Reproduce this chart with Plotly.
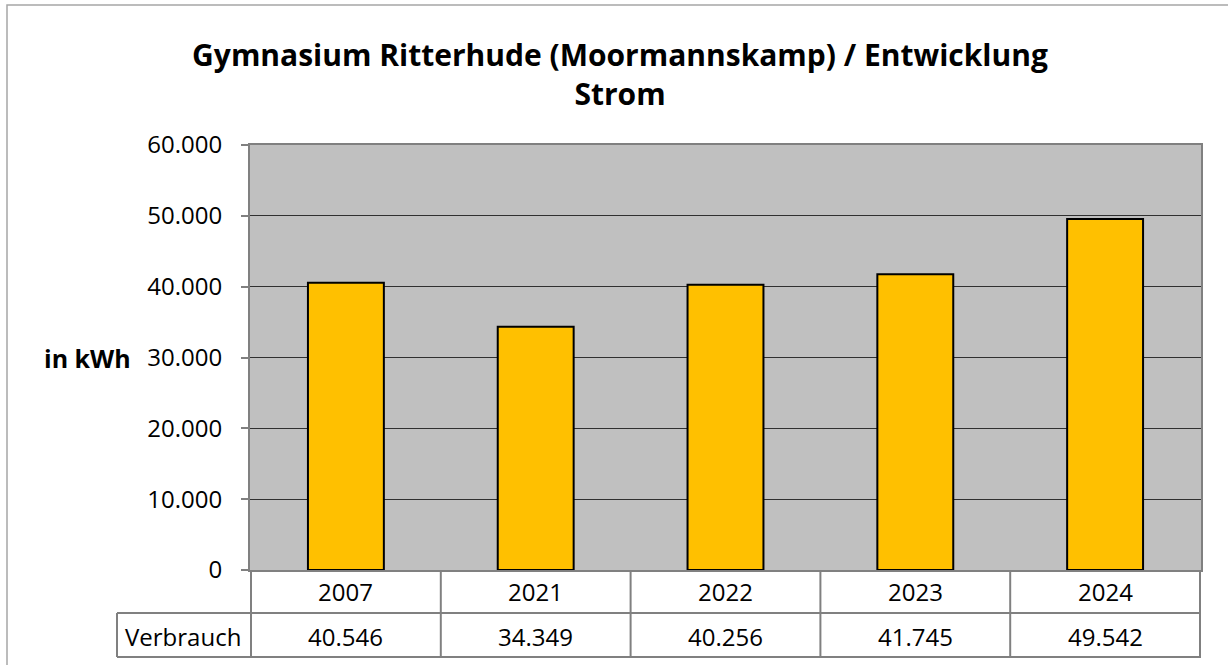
import plotly.graph_objects as go

# Daten
years = ["2007", "2021", "2022", "2023", "2024"]
verbrauch = [40546, 34349, 40256, 41745, 49542]
row_label = "Verbrauch"
y_ticks = [0, 10000, 20000, 30000, 40000, 50000, 60000]

TITLE = "Gymnasium Ritterhude (Moormannskamp) / Entwicklung<br>Strom"
FONT = "Open Sans"
GRAY = "#808080"

W, H = 1228, 665
L, T = 250, 145
pw, ph = 951, 425
R, B = W - L - pw, H - T - ph


def px_x(px):
    return (px - L) / pw


def px_y(py):
    return (T + ph - py) / ph


def de(v):
    return f"{v:,}".replace(",", ".")


fig = go.Figure(go.Bar(
    x=years,
    y=verbrauch,
    marker=dict(color="#FFC000", line=dict(color="black", width=2)),
    width=0.4,
    hoverinfo="x+y",
))

shapes = [
    # Rahmen des Diagramms
    dict(type="rect", xref="paper", yref="paper",
         x0=px_x(7), x1=px_x(1245), y0=px_y(690), y1=px_y(5),
         line=dict(color="#A6A6A6", width=1.5), layer="below"),
    # Tabellenlinien
    dict(type="line", xref="paper", yref="paper", x0=px_x(117), x1=1,
         y0=px_y(613), y1=px_y(613), line=dict(color=GRAY, width=2)),
    dict(type="line", xref="paper", yref="paper", x0=px_x(117), x1=1,
         y0=px_y(657), y1=px_y(657), line=dict(color=GRAY, width=2)),
    dict(type="line", xref="paper", yref="paper", x0=px_x(117), x1=px_x(117),
         y0=px_y(613), y1=px_y(657), line=dict(color=GRAY, width=2)),
]
for i in range(len(years) + 1):
    shapes.append(dict(type="line", xref="x", yref="paper", x0=i - 0.5, x1=i - 0.5,
                       y0=0, y1=px_y(657), line=dict(color=GRAY, width=2)))

annotations = [
    dict(text="<b>in kWh</b>", xref="paper", yref="paper", x=px_x(133), y=0.5,
         xanchor="right", yanchor="middle", showarrow=False,
         font=dict(family=FONT, size=25, color="black")),
    dict(text=row_label, xref="paper", yref="paper", x=px_x(183), y=px_y(636),
         xanchor="center", yanchor="middle", showarrow=False,
         font=dict(family=FONT, size=24, color="black")),
]
for i, (yr, v) in enumerate(zip(years, verbrauch)):
    annotations.append(dict(text=yr, xref="x", yref="paper", x=i, y=px_y(591),
                            xanchor="center", yanchor="middle", showarrow=False,
                            font=dict(family=FONT, size=24, color="black")))
    annotations.append(dict(text=de(v), xref="x", yref="paper", x=i, y=px_y(636),
                            xanchor="center", yanchor="middle", showarrow=False,
                            font=dict(family=FONT, size=24, color="black")))

fig.update_layout(
    width=W,
    height=H,
    margin=dict(l=L, r=R, t=T, b=B),
    paper_bgcolor="white",
    plot_bgcolor="#C0C0C0",
    separators=",.",
    showlegend=False,
    title=dict(text=f"<b>{TITLE}</b>", x=620 / W, xanchor="center",
               y=1 - 66 / H, yanchor="middle",
               font=dict(family=FONT, size=30, color="black")),
    xaxis=dict(type="category", showticklabels=False, showgrid=False, ticks="",
               showline=True, linecolor=GRAY, linewidth=2, mirror=True, fixedrange=True),
    yaxis=dict(range=[0, 60000], tickvals=y_ticks, tickformat=",d",
               showgrid=True, gridcolor="#303030", gridwidth=1,
               zeroline=False, ticks="outside", ticklen=7, tickcolor=GRAY, tickwidth=2,
               ticklabelstandoff=14,
               showline=True, linecolor=GRAY, linewidth=2, mirror=True,
               tickfont=dict(family=FONT, size=24, color="black"), fixedrange=True),
    shapes=shapes,
    annotations=annotations,
)

# Seitenrand des Browsers entfernen, damit die Grafik bei (0, 0) beginnt
fig.write_html("out.html", config={"displayModeBar": False},
               post_script="document.body.style.margin='0';document.body.style.overflow='hidden';")
